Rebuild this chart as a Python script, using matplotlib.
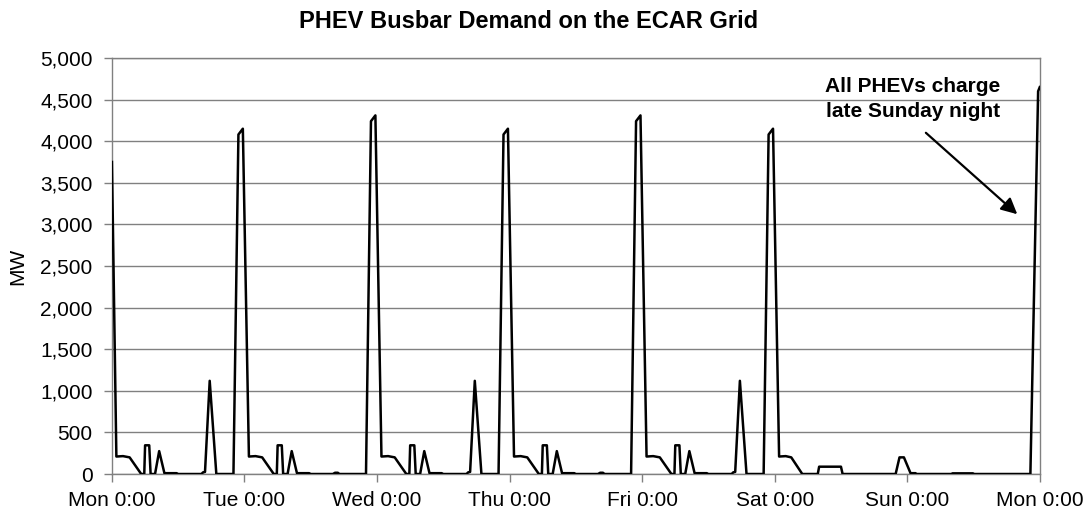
import matplotlib
matplotlib.use("Agg")
import matplotlib.pyplot as plt

plt.rcParams['font.family'] = ['Liberation Sans', 'DejaVu Sans']

# ---- data (hours from Monday 0:00, MW) ----
day_labels = ["Mon 0:00", "Tue 0:00", "Wed 0:00", "Thu 0:00",
              "Fri 0:00", "Sat 0:00", "Sun 0:00", "Mon 0:00"]
day_ticks = [0, 24, 48, 72, 96, 120, 144, 168]

mon_hours = [0, 0.8, 2.0, 3.2, 5.3, 5.85, 6.0, 6.75, 7.0, 7.8, 8.55, 9.5, 11.7, 12.0,
             16.2, 16.5, 16.85, 17.7, 18.9, 22.0, 22.9, 23.7]
mon_mw = [3750, 210, 215, 200, 0, 0, 345, 345, 0, 0, 275, 10, 10, 0,
          0, 20, 25, 1120, 0, 0, 4080, 4150]

tue_hours = [24.8, 26.0, 27.2, 29.3, 29.85, 30.0, 30.75, 31.0, 31.8, 32.55, 33.5, 35.7, 36.0,
             40.0, 40.4, 40.9, 41.2, 46.0, 46.9, 47.7]
tue_mw = [210, 215, 200, 0, 0, 345, 345, 0, 0, 275, 10, 10, 0,
          0, 15, 15, 0, 0, 4240, 4310]

wed_hours = [48.8, 50.0, 51.2, 53.3, 53.85, 54.0, 54.75, 55.0, 55.8, 56.55, 57.5, 59.7, 60.0,
             64.2, 64.5, 64.85, 65.7, 66.9, 70.0, 70.9, 71.7]
wed_mw = [210, 215, 200, 0, 0, 345, 345, 0, 0, 275, 10, 10, 0,
          0, 20, 25, 1120, 0, 0, 4080, 4150]

thu_hours = [72.8, 74.0, 75.2, 77.3, 77.85, 78.0, 78.75, 79.0, 79.8, 80.55, 81.5, 83.7, 84.0,
             88.0, 88.4, 88.9, 89.2, 94.0, 94.9, 95.7]
thu_mw = [210, 215, 200, 0, 0, 345, 345, 0, 0, 275, 10, 10, 0,
          0, 15, 15, 0, 0, 4240, 4310]

fri_hours = [96.8, 98.0, 99.2, 101.3, 101.85, 102.0, 102.75, 103.0, 103.8, 104.55, 105.5, 107.7, 108.0,
             112.2, 112.5, 112.85, 113.7, 114.9, 118.0, 118.9, 119.7]
fri_mw = [210, 215, 200, 0, 0, 345, 345, 0, 0, 275, 10, 10, 0,
          0, 20, 25, 1120, 0, 0, 4080, 4150]

sat_hours = [120.8, 122.0, 123.0, 125.0, 127.8, 128.05, 132.0, 132.3, 141.9, 142.6, 143.4, 144.6]
sat_mw = [210, 215, 200, 0, 0, 88, 88, 0, 0, 200, 200, 10]

sun_hours = [145.5, 145.7, 152.0, 152.2, 155.9, 156.1, 166.3, 167.7, 168.0]
sun_mw = [10, 0, 0, 8, 8, 0, 0, 4600, 4650]

hours = mon_hours + tue_hours + wed_hours + thu_hours + fri_hours + sat_hours + sun_hours
mw = mon_mw + tue_mw + wed_mw + thu_mw + fri_mw + sat_mw + sun_mw

y_ticks = list(range(0, 5001, 500))

# ---- plot ----
fig = plt.figure(figsize=(10.89, 5.13), dpi=100)
ax = fig.add_axes([0.1028, 0.076, 0.852, 0.811])

ax.plot(hours, mw, color='black', lw=1.8, zorder=3)

ax.set_xlim(0, 168)
ax.set_ylim(0, 5000)
ax.set_xticks(day_ticks)
ax.set_xticklabels(day_labels)
ax.set_yticks(y_ticks)
ax.set_yticklabels([f"{v:,}" for v in y_ticks])
ax.tick_params(axis='both', labelsize=15, labelcolor='black', color='#808080', length=6, width=1)
ax.tick_params(axis='y', pad=8)
ax.tick_params(axis='x', pad=6)
ax.yaxis.grid(True, color='#808080', lw=1)
ax.set_axisbelow(True)
for s in ax.spines.values():
    s.set_color('#808080')
    s.set_linewidth(1)

ax.set_ylabel("MW", fontsize=15, labelpad=9)
fig.text(0.485, 0.958, "PHEV Busbar Demand on the ECAR Grid", fontsize=17,
         fontweight='bold', ha='center', va='center')

ax.text(145.0, 4507, "All PHEVs charge\nlate Sunday night", fontsize=15, fontweight='bold',
        ha='center', va='center', linespacing=1.35)
ax.annotate('', xy=(164.3, 3100), xytext=(147.0, 4123),
            arrowprops=dict(arrowstyle='-|>', color='black', lw=1.6, mutation_scale=24))

fig.savefig("out.png", dpi=100)
